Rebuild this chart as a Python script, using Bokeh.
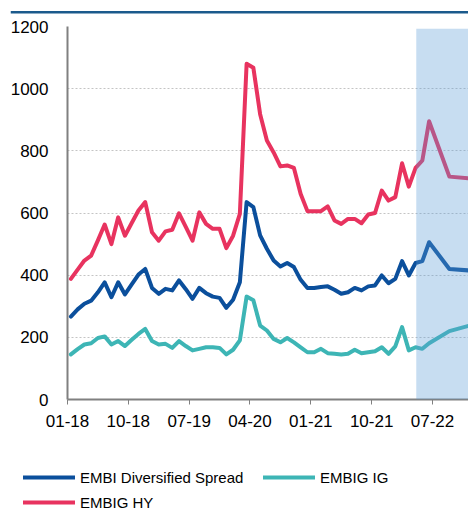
from bokeh.plotting import figure
from bokeh.models import Range1d, FixedTicker, BoxAnnotation, Legend, LegendItem, Plot
from bokeh.layouts import column
from bokeh.embed import file_html
from bokeh.resources import INLINE

# month index counted from Jan-2018 (0): monthly to Jun-2022, then Sep-22 and Dec-22
months = list(range(0, 54)) + [56, 59]

embi_div = [267, 290, 308, 318, 345, 377, 329, 377, 338, 370,
            402, 420, 359, 340, 356, 351, 383, 355, 324, 359,
            342, 331, 327, 295, 321, 377, 635, 619, 528, 485,
            447, 428, 439, 426, 385, 359, 359, 362, 364, 353,
            340, 345, 359, 351, 364, 367, 399, 374, 388, 445,
            399, 439, 445, 506, 420, 415]

embig_ig = [145, 162, 177, 181, 198, 203, 177, 188, 172, 192,
            211, 227, 188, 177, 179, 166, 188, 172, 158, 163,
            168, 168, 166, 145, 160, 190, 331, 319, 238, 222,
            195, 184, 198, 184, 168, 152, 152, 163, 149, 147,
            145, 147, 160, 149, 152, 155, 168, 147, 171, 233,
            158, 168, 163, 181, 220, 238]

embig_hy = [388, 418, 447, 463, 512, 563, 500, 586, 527, 568,
            608, 635, 538, 511, 541, 546, 599, 555, 511, 602,
            565, 549, 549, 487, 527, 597, 1080, 1067, 918, 833,
            795, 750, 753, 745, 661, 606, 606, 606, 621, 576,
            565, 581, 581, 567, 595, 600, 672, 640, 651, 760,
            685, 745, 769, 895, 717, 711]

series_names = ["EMBI Diversified Spread", "EMBIG IG", "EMBIG HY"]
series_colors = ["#0b4f9c", "#3db5b5", "#e8335f"]
series_values = [embi_div, embig_ig, embig_hy]

x_tick_pos = [0, 9, 18, 27, 36, 45, 54]
x_tick_labels = ["01-18", "10-18", "07-19", "04-20", "01-21", "10-21", "07-22"]
y_ticks = [0, 200, 400, 600, 800, 1000, 1200]

shade_start = 51.6   # start of shaded (projection) period, in months
x_end = 59.33

xs = [m + 0.5 for m in months]

FONT = "Liberation Sans"
RULE = "#1b5a8c"
HAS_FA = "frame_align" in Plot.properties()


def no_align(fig):
    if HAS_FA:
        fig.frame_align = False


# --- top rule (a thin strip above the chart) -------------------------------
rule = figure(width=458, height=14, output_backend="svg", toolbar_location=None,
              x_axis_type=None, y_axis_type=None, min_border=0,
              x_range=Range1d(0, 1), y_range=Range1d(0, 14),
              background_fill_color="white", border_fill_color="white",
              margin=(0, 0, 0, 10))
rule.outline_line_color = None
rule.grid.visible = False
rule.add_layout(BoxAnnotation(left=0, right=1, bottom=1, top=3.5,
                              fill_color=RULE, fill_alpha=1, line_color=None))
no_align(rule)

# --- main chart -----------------------------------------------------------
p = figure(width=468, height=452, output_backend="svg", toolbar_location=None,
           x_range=Range1d(0, x_end), y_range=Range1d(0, 1200),
           min_border_left=67, min_border_right=0, min_border_top=12,
           min_border_bottom=67, background_fill_color="white",
           border_fill_color="white", margin=0)
p.outline_line_color = None
p.xgrid.visible = False
p.ygrid.grid_line_color = "#c4c4c4"
p.ygrid.grid_line_dash = "2 2"
p.ygrid.grid_line_width = 1
no_align(p)

for vals, col in zip(series_values, series_colors):
    p.line(xs, vals, line_color=col, line_width=4, line_join="round", line_cap="round")

shade = BoxAnnotation(left=shade_start, right=x_end, bottom=0, top=1193,
                      fill_color="#5b9bd5", fill_alpha=0.34, line_color=None)
p.add_layout(shade)

p.xaxis.ticker = FixedTicker(ticks=x_tick_pos)
p.xaxis.major_label_overrides = {t: l for t, l in zip(x_tick_pos, x_tick_labels)}
p.xaxis.axis_line_color = "#808080"
p.xaxis.axis_line_width = 2
p.xaxis.major_tick_line_color = "#808080"
p.xaxis.major_tick_in = 0
p.xaxis.major_tick_out = 5
p.xaxis.minor_tick_line_color = None
p.xaxis.major_label_text_font = FONT
p.xaxis.major_label_text_font_size = "17px"
p.xaxis.major_label_text_color = "black"
p.xaxis.major_label_standoff = 10

p.yaxis.ticker = FixedTicker(ticks=y_ticks)
p.yaxis.axis_line_color = "#808080"
p.yaxis.axis_line_width = 2
p.yaxis.major_tick_line_color = None
p.yaxis.major_tick_in = 0
p.yaxis.major_tick_out = 0
p.yaxis.minor_tick_line_color = None
p.yaxis.major_label_text_font = FONT
p.yaxis.major_label_text_font_size = "17px"
p.yaxis.major_label_text_color = "black"
p.yaxis.major_label_standoff = 19

# --- legend strip (same series, ranges chosen so only the key shows) -------
lf = figure(width=468, height=49, output_backend="svg", toolbar_location=None,
            x_axis_type=None, y_axis_type=None, min_border=0,
            x_range=Range1d(0, x_end), y_range=Range1d(-2, -1),
            background_fill_color="white", border_fill_color="white", margin=0)
lf.outline_line_color = None
lf.grid.visible = False
no_align(lf)
keys = [lf.line(xs, vals, line_color=c, line_width=4, line_cap="round")
        for vals, c in zip(series_values, series_colors)]

legend = Legend(items=[LegendItem(label=n, renderers=[r]) for n, r in zip(series_names, keys)],
                location=(23, 3), orientation="horizontal", ncols=2,
                border_line_color=None, background_fill_alpha=0, padding=0, margin=0,
                spacing=5, glyph_width=52, glyph_height=20, label_height=20,
                label_standoff=5, label_width=178,
                label_text_font=FONT, label_text_font_size="15px", label_text_color="black")
lf.add_layout(legend)

layout = column(rule, p, lf, spacing=0)

open("out.html", "w").write(file_html(layout, INLINE))
